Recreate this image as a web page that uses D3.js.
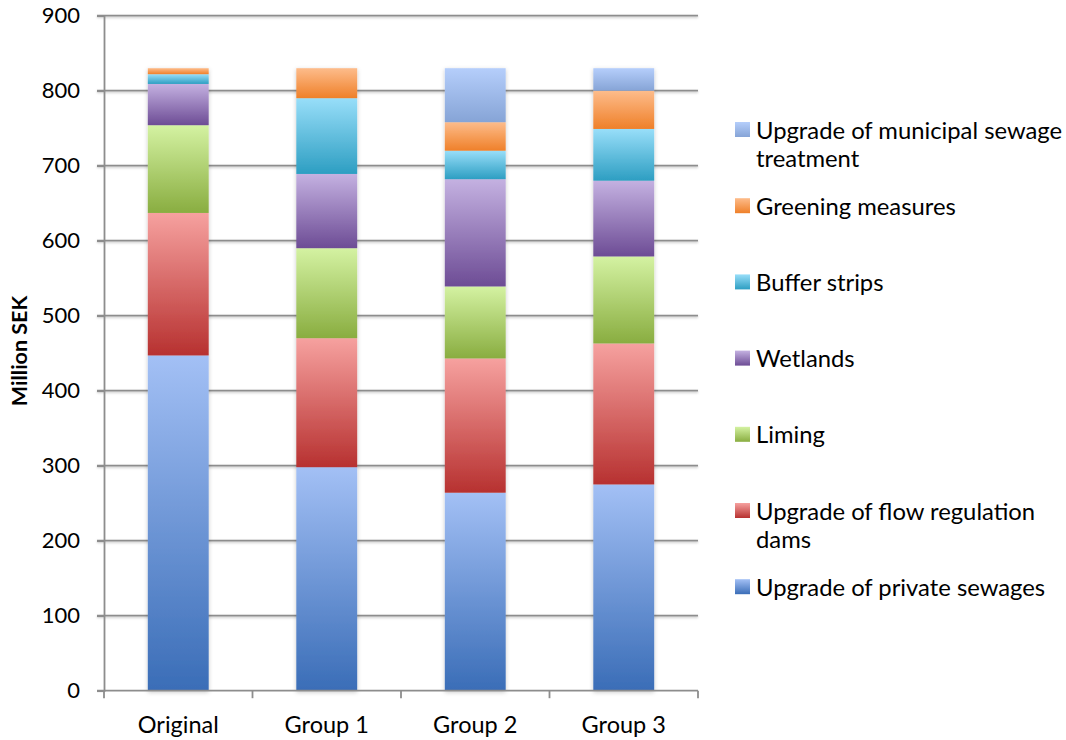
<!DOCTYPE html>
<html>
<head>
<meta charset="utf-8">
<script src="https://cdn.jsdelivr.net/npm/d3@7"></script>
<style>
  html, body { margin: 0; padding: 0; background: #fff; }
  svg { display: block; }
  text { font-family: Lato, "Open Sans", sans-serif; fill: #000; }
</style>
</head>
<body>
<svg id="chart" width="1066" height="740"></svg>
<script>
// Cost of measures per scenario, million SEK
const categories = ["Original", "Group 1", "Group 2", "Group 3"];
const seriesNames = [
  "Upgrade of private sewages",
  "Upgrade of flow regulation dams",
  "Liming",
  "Wetlands",
  "Buffer strips",
  "Greening measures",
  "Upgrade of municipal sewage treatment"
];
const privateSewages = [447, 298, 264, 275];
const flowDams      = [190, 172, 179, 188];
const liming        = [117, 120, 96, 116];
const wetlands      = [55, 99, 143, 101];
const bufferStrips  = [13, 101, 38, 69];
const greening      = [8, 40, 38, 51];
const municipal     = [0, 0, 72, 30];
const yTicks = [0, 100, 200, 300, 400, 500, 600, 700, 800, 900];

// light (top) and dark (bottom) stop of each series gradient
const gradTop = ["#a3c0f5", "#f6a19f", "#d4f2a2", "#c4b1e1", "#98def9", "#fdbc8b", "#b5cefb"];
const gradBot = ["#3a6db7", "#b73130", "#89ad40", "#6d4c95", "#2d9ec2", "#ef8029", "#86a4d6"];
// legend wraps these labels onto two lines
const legendLines = {
  "Upgrade of municipal sewage treatment": ["Upgrade of municipal sewage", "treatment"],
  "Upgrade of flow regulation dams": ["Upgrade of flow regulation", "dams"]
};

const seriesValues = [privateSewages, flowDams, liming, wetlands, bufferStrips, greening, municipal];
const rows = categories.map((c, i) => {
  const r = { category: c };
  seriesNames.forEach((s, k) => { r[s] = seriesValues[k][i]; });
  return r;
});

const svg = d3.select("#chart");
const defs = svg.append("defs");

seriesNames.forEach((s, k) => {
  const g = defs.append("linearGradient")
    .attr("id", "grad" + k).attr("x1", 0).attr("y1", 0).attr("x2", 0).attr("y2", 1);
  g.append("stop").attr("offset", "0%").attr("stop-color", gradTop[k]);
  g.append("stop").attr("offset", "100%").attr("stop-color", gradBot[k]);
});

const barShadow = defs.append("filter").attr("id", "barShadow")
  .attr("x", "-20%").attr("y", "-5%").attr("width", "140%").attr("height", "110%");
barShadow.append("feDropShadow").attr("dx", 0).attr("dy", 1.5)
  .attr("stdDeviation", 2).attr("flood-color", "#000").attr("flood-opacity", 0.22);

const lineShadow = defs.append("filter").attr("id", "lineShadow")
  .attr("x", "-5%").attr("y", "-200%").attr("width", "110%").attr("height", "500%");
lineShadow.append("feDropShadow").attr("dx", 0).attr("dy", 1.2)
  .attr("stdDeviation", 0.8).attr("flood-color", "#000").attr("flood-opacity", 0.25);

const x = d3.scaleBand().domain(categories).range([104, 698])
  .paddingInner(0.59).paddingOuter(0.295);
const y = d3.scaleLinear().domain([0, 900]).range([690.7, 15.7]);

// horizontal gridlines (they also form the y tick marks)
const grid = svg.append("g").attr("filter", "url(#lineShadow)");
grid.selectAll("line").data(yTicks.filter(t => t > 0)).join("line")
  .attr("x1", 97).attr("x2", 698)
  .attr("y1", d => y(d)).attr("y2", d => y(d))
  .attr("stroke", "#8d8d8d").attr("stroke-width", 1.8);

// y axis
const yAxis = svg.append("g").attr("transform", "translate(104,0)")
  .call(d3.axisLeft(y).tickValues(yTicks).tickSize(7).tickPadding(17).tickFormat(d3.format("d")));
yAxis.select(".domain").attr("stroke", "#8d8d8d").attr("stroke-width", 1.8);
yAxis.selectAll(".tick line").attr("stroke", "#8d8d8d").attr("stroke-width", 1.8);
yAxis.selectAll(".tick text").style("font-family", "Lato, sans-serif")
  .style("font-size", "22px").attr("fill", "#000");

// stacked bars
const stack = d3.stack().keys(seriesNames);
const layers = stack(rows);
const bars = svg.append("g").attr("filter", "url(#barShadow)");
bars.selectAll("g").data(layers).join("g")
  .attr("fill", (d, k) => "url(#grad" + k + ")")
  .selectAll("rect").data(d => d.filter(p => p[1] - p[0] > 0)).join("rect")
  .attr("x", d => x(d.data.category))
  .attr("width", x.bandwidth())
  .attr("y", d => y(d[1]))
  .attr("height", d => y(d[0]) - y(d[1]));

// x axis with ticks at the band boundaries
const xAxisG = svg.append("g");
xAxisG.append("line").attr("x1", 97).attr("x2", 698)
  .attr("y1", y(0)).attr("y2", y(0))
  .attr("stroke", "#8d8d8d").attr("stroke-width", 1.8);
const bounds = categories.map(c => x(c) - x.step() * x.paddingInner() / 2)
  .concat([x(categories[categories.length - 1]) + x.bandwidth() + x.step() * x.paddingInner() / 2]);
bounds[0] = 104;
xAxisG.selectAll("line.tk").data(bounds).join("line").attr("class", "tk")
  .attr("x1", d => d).attr("x2", d => d)
  .attr("y1", y(0)).attr("y2", y(0) + 7.5)
  .attr("stroke", "#8d8d8d").attr("stroke-width", 1.8);
xAxisG.selectAll("text").data(categories).join("text")
  .attr("x", d => x(d) + x.bandwidth() / 2)
  .attr("y", 733)
  .attr("text-anchor", "middle")
  .style("font-size", "23.5px")
  .text(d => d);

// y axis title
svg.append("text")
  .attr("transform", "translate(27,351) rotate(-90)")
  .attr("text-anchor", "middle")
  .style("font-size", "21.5px").style("font-weight", "bold")
  .text("Million SEK");

// legend, top entry is the top of the stack
const legendNames = seriesNames.slice().reverse();
const legend = svg.append("g");
legendNames.forEach((s, i) => {
  const k = seriesNames.indexOf(s);
  const cy = 130 + i * 76.2;
  legend.append("rect").attr("x", 735).attr("y", cy - 8).attr("width", 15).attr("height", 15)
    .attr("fill", "url(#grad" + k + ")");
  const lines = legendLines[s] || [s];
  lines.forEach((ln, j) => {
    legend.append("text").attr("x", 756).attr("y", cy + 8.5 + j * 28.5)
      .style("font-size", "23.8px").text(ln);
  });
});
</script>
</body>
</html>
